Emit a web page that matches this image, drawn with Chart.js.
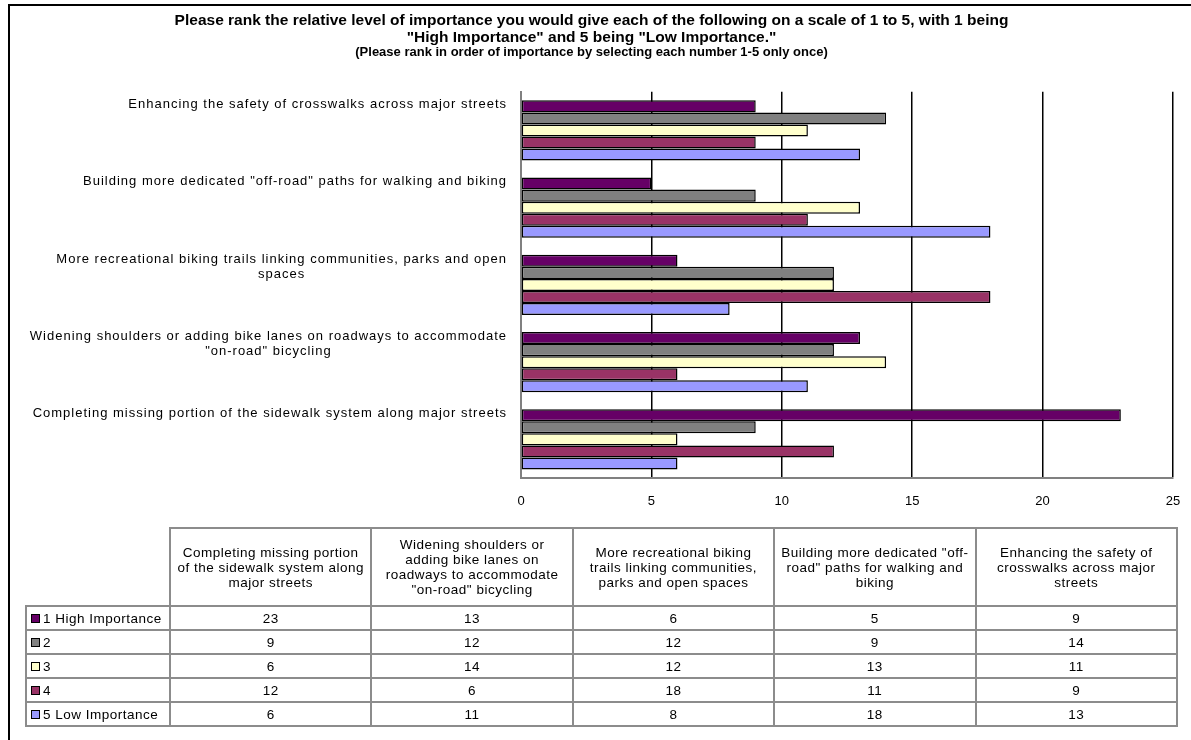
<!DOCTYPE html>
<html>
<head>
<meta charset="utf-8">
<script src="https://cdn.jsdelivr.net/npm/chart.js@4/dist/chart.umd.min.js"></script>
<style>
  body { margin: 0; background: #fff; }
  #wrap { position: relative; width: 1191px; height: 740px; overflow: hidden; font-family: "Liberation Sans", Arial, sans-serif; }
  #frame { position: absolute; left: 8px; top: 4px; right: -10px; bottom: -10px; border-top: 2px solid #000; border-left: 2px solid #000; }
  #chart { position: absolute; left: 0; top: 0; }
  #datatable { position: absolute; left: 25px; top: 527px; width: 1153px; border-collapse: collapse; table-layout: fixed; font-size: 13.5px; letter-spacing: 0.5px; color: #000; }
  #datatable td, #datatable th { border: 2px solid #8c8c8c; padding: 0 3px; font-weight: normal; text-align: center; }
  #datatable th { height: 76px; line-height: 15px; }
  #datatable td { height: 22px; line-height: 15px; }
  #datatable th.blank { border-top: none; border-left: none; }
  #datatable td.key { text-align: left; padding-left: 4px; letter-spacing: 0.5px; }
  .sw { display: inline-block; width: 7px; height: 7px; border: 1.5px solid #000; margin-right: 3px; vertical-align: 0px; }
</style>
</head>
<body>
<div id="wrap">
  <div id="frame"></div>
  <canvas id="chart" width="1191" height="740"></canvas>
  <table id="datatable"></table>
</div>
<script>
// projects, in the order of the table columns
const categories = [
  'Completing missing portion of the sidewalk system along major streets',
  'Widening shoulders or adding bike lanes on roadways to accommodate "on-road" bicycling',
  'More recreational biking trails linking communities, parks and open spaces',
  'Building more dedicated "off-road" paths for walking and biking',
  'Enhancing the safety of crosswalks across major streets'
];
// wrapped text next to the bars
const axisLabelLines = [
  ['Completing missing portion of the sidewalk system along major streets'],
  ['Widening shoulders or adding bike lanes on roadways to accommodate', '"on-road" bicycling'],
  ['More recreational biking trails linking communities, parks and open', 'spaces'],
  ['Building more dedicated "off-road" paths for walking and biking'],
  ['Enhancing the safety of crosswalks across major streets']
];
// wrapped text for the table header
const headerLines = [
  ['Completing missing portion', 'of the sidewalk system along', 'major streets'],
  ['Widening shoulders or', 'adding bike lanes on', 'roadways to accommodate', '"on-road" bicycling'],
  ['More recreational biking', 'trails linking communities,', 'parks and open spaces'],
  ['Building more dedicated "off-', 'road" paths for walking and', 'biking'],
  ['Enhancing the safety of', 'crosswalks across major', 'streets']
];

const rankNames = ['1 High Importance', '2', '3', '4', '5 Low Importance'];
const rank1 = [23, 13, 6, 5, 9];
const rank2 = [9, 12, 12, 9, 14];
const rank3 = [6, 14, 12, 13, 11];
const rank4 = [12, 6, 18, 11, 9];
const rank5 = [6, 11, 8, 18, 13];
const rankColors = ['#660066', '#808080', '#ffffcc', '#993366', '#9999ff'];
const xTicks = [0, 5, 10, 15, 20, 25];

const FONT = '"Liberation Sans", Arial, sans-serif';

// labels for the category axis: first line right aligned, the rest centred under it
const categoryLabels = {
  id: 'categoryLabels',
  afterDraw(chart) {
    const ctx = chart.ctx;
    const y = chart.scales.y;
    ctx.save();
    ctx.font = '13px ' + FONT;
    ctx.letterSpacing = '1px';
    ctx.fillStyle = '#000';
    ctx.textBaseline = 'middle';
    ctx.textAlign = 'center';
    const right = y.right - 14;
    axisLabelLines.forEach((lines, i) => {
      const top = y.getPixelForValue(i) - 26;
      const w = ctx.measureText(lines[0]).width;
      const mid = right - w / 2;
      lines.forEach((line, j) => ctx.fillText(line, mid, top + j * 15));
    });
    ctx.restore();
  }
};

const datasets = [rank1, rank2, rank3, rank4, rank5].map((vals, i) => ({
  label: rankNames[i],
  data: vals,
  backgroundColor: rankColors[i],
  borderColor: '#000',
  borderWidth: 1.5,
  borderSkipped: false,
  categoryPercentage: 0.78,
  barPercentage: 1.0
}));

new Chart(document.getElementById('chart'), {
  type: 'bar',
  data: { labels: categories, datasets: datasets },
  plugins: [categoryLabels],
  options: {
    indexAxis: 'y',
    responsive: false,
    animation: false,
    events: [],
    layout: { padding: { left: 10, right: 18, top: 0, bottom: 222 } },
    plugins: {
      legend: { display: false },
      tooltip: { enabled: false },
      title: {
        display: true,
        text: ['Please rank the relative level of importance you would give each of the following on a scale of 1 to 5, with 1 being',
               '"High Importance" and 5 being "Low Importance."'],
        color: '#000',
        font: { family: FONT, size: 15.5, weight: 'bold', lineHeight: 1.05 },
        padding: { top: 13, bottom: 0 }
      },
      subtitle: {
        display: true,
        text: '(Please rank in order of importance by selecting each number 1-5 only once)',
        color: '#000',
        font: { family: FONT, size: 13, weight: 'bold', lineHeight: 1.1 },
        padding: { top: 0, bottom: 32 }
      }
    },
    scales: {
      x: {
        min: 0,
        max: 25,
        afterBuildTicks: (scale) => { scale.ticks = xTicks.map(v => ({ value: v })); },
        afterFit: (scale) => { scale.height = 40; scale.paddingLeft = 0; scale.paddingRight = 0; },
        grid: {
          color: (c) => c.tick && c.tick.value === 0 ? 'rgba(0,0,0,0)' : '#000',
          lineWidth: 1.5,
          drawTicks: false
        },
        border: { display: true, color: '#808080', width: 2 },
        ticks: { color: '#000', padding: 16, font: { family: FONT, size: 13 } }
      },
      y: {
        reverse: true,
        afterFit: (scale) => { scale.width = 511; },
        grid: { color: 'rgba(0,0,0,0)', drawTicks: false },
        border: { display: true, color: '#808080', width: 2 },
        ticks: { display: false }
      }
    }
  }
});

// data table under the chart
let html = '<colgroup><col style="width:144px">' + categories.map(() => '<col>').join('') + '</colgroup>';
html += '<tr><th class="blank"></th>' + headerLines.map(l => `<th>${l.join('<br>')}</th>`).join('') + '</tr>';
[rank1, rank2, rank3, rank4, rank5].forEach((vals, i) => {
  html += `<tr><td class="key"><span class="sw" style="background:${rankColors[i]}"></span>${rankNames[i]}</td>` +
    vals.map(v => `<td>${v}</td>`).join('') + '</tr>';
});
document.getElementById('datatable').innerHTML = html;
</script>
</body>
</html>
